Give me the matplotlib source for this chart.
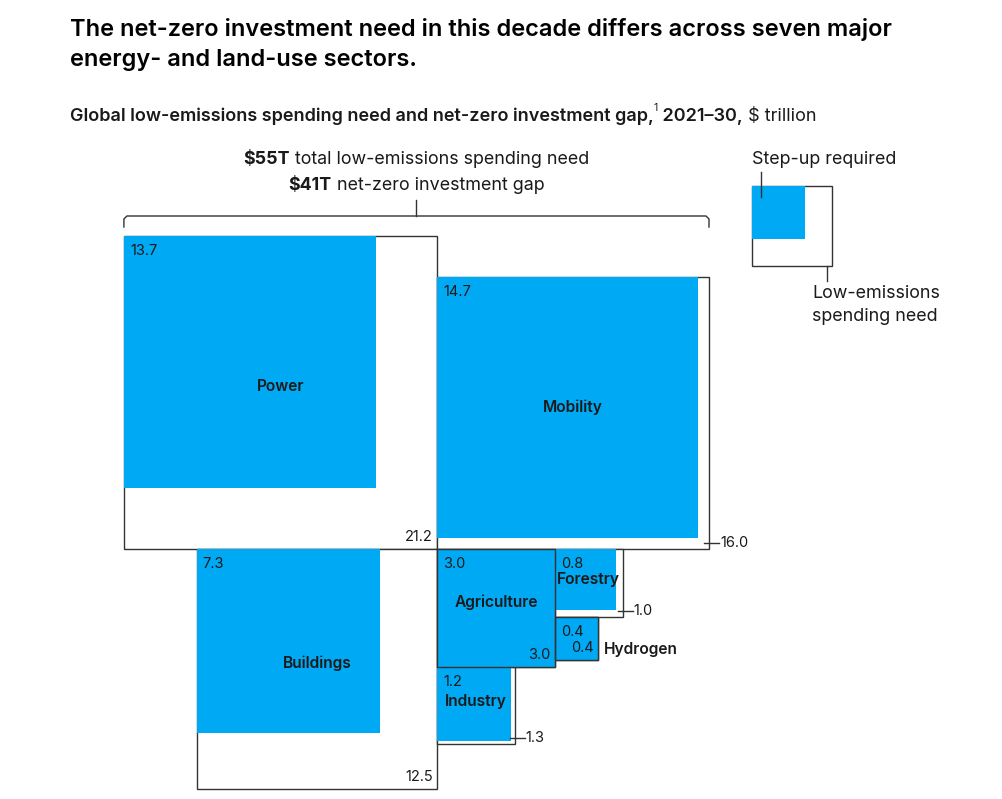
"""
net-zero investment need by sector, nested squares
"""
import numpy as np
import matplotlib
matplotlib.use("Agg")
import matplotlib.pyplot as plt
from matplotlib.patches import Rectangle

# data, $ trillion 2021-30
sectors = ["Power", "Mobility", "Buildings", "Agriculture", "Forestry", "Hydrogen", "Industry"]
spending_need = [21.2, 16.0, 12.5, 3.0, 1.0, 0.4, 1.3]
step_up = [13.7, 14.7, 7.3, 3.0, 0.8, 0.4, 1.2]
total_need = 55
total_gap = 41

# label styles
need_label_outside = [False, True, False, False, True, False, True]
name_outside = [False, False, False, False, False, True, False]

BLUE = "#00A9F4"
EDGE = "#333333"
TXT = "#1a1a1a"
plt.rcParams["font.family"] = ["Inter", "DejaVu Sans"]

fig = plt.figure(figsize=(10.03, 7.99), dpi=100)
ax = fig.add_axes([0, 0, 1, 1])
ax.set_xlim(0, 1003)
ax.set_ylim(799, 0)
ax.axis("off")
renderer = fig.canvas.get_renderer()

scale = 68.0          # px per sqrt($T)
ox, oy = 437, 549     # pivot point of the layout
sides = {s: np.sqrt(v) * scale for s, v in zip(sectors, spending_need)}
inner = {s: np.sqrt(v) * scale for s, v in zip(sectors, step_up)}

# top-left corners, arranged around the pivot
pos = {
    "Power": (ox - sides["Power"], oy - sides["Power"]),
    "Mobility": (ox, oy - sides["Mobility"]),
    "Buildings": (ox - sides["Buildings"], oy),
    "Agriculture": (ox, oy),
    "Forestry": (ox + sides["Agriculture"], oy),
    "Hydrogen": (ox + sides["Agriculture"], oy + sides["Forestry"]),
    "Industry": (ox, oy + sides["Agriculture"]),
}

for i, s in enumerate(sectors):
    x, y = pos[s]
    side = sides[s]
    ax.add_patch(Rectangle((x, y), side, side, facecolor="white",
                           edgecolor=EDGE, lw=1.0, zorder=1))
    ax.add_patch(Rectangle((x, y), inner[s], inner[s], facecolor=BLUE,
                           edgecolor="none", zorder=2))
    if abs(inner[s] - side) < 0.5:
        ax.add_patch(Rectangle((x, y), side, side, facecolor="none",
                               edgecolor=EDGE, lw=1.0, zorder=3))
    ax.text(x + 6, y + 15, f"{step_up[i]:.1f}", fontsize=10.5, color=TXT,
            ha="left", va="center", zorder=4)
    if need_label_outside[i]:
        ly = y + side - 6
        ax.plot([x + side - 5, x + side + 10], [ly, ly], color=EDGE, lw=1.0, zorder=4)
        ax.text(x + side + 11, ly, f"{spending_need[i]:.1f}", fontsize=10.5,
                color=TXT, ha="left", va="center", zorder=4)
    else:
        ax.text(x + side - 4, y + side - 12, f"{spending_need[i]:.1f}", fontsize=10.5,
                color=TXT, ha="right", va="center", zorder=4)
    if name_outside[i]:
        ax.text(x + side + 6, y + side - 11, s, fontsize=11.2, fontweight="semibold",
                color=TXT, ha="left", va="center", zorder=4)
    else:
        lift = min(6, side * 0.05)
        ax.text(x + side / 2, y + side / 2 - lift, s, fontsize=11.2, fontweight="semibold",
                color=TXT, ha="center", va="center", zorder=4)


def rich_line(parts, x, y, ha="left", size=11.5):
    """draw (text, weight) pieces one after another"""
    objs = []
    for txt, weight in parts:
        objs.append(ax.text(0, y, txt, fontsize=size, fontweight=weight,
                            color=TXT, va="baseline"))
    widths = [t.get_window_extent(renderer).width for t in objs]
    total = sum(widths)
    cx = x - total / 2 if ha == "center" else x
    for t, w in zip(objs, widths):
        t.set_x(cx)
        cx += w
    return cx


# bracket over Power + Mobility
bx0 = pos["Power"][0]
bx1 = pos["Mobility"][0] + sides["Mobility"]
bmid = (bx0 + bx1) / 2
ax.plot([bx0, bx0, bx0 + 3, bx1 - 3, bx1, bx1], [227, 219, 216, 216, 219, 227],
        color=EDGE, lw=1.0)
ax.plot([bmid, bmid], [200, 216], color=EDGE, lw=1.0)
rich_line([(f"${total_need}T", "bold"), (" total low-emissions spending need", "normal")],
          bmid, 164, ha="center", size=12.9)
rich_line([(f"${total_gap}T", "bold"), (" net-zero investment gap", "normal")],
          bmid, 190, ha="center", size=12.9)

# legend
lx, ly, lside, lin = 752, 186, 80, 53
ax.add_patch(Rectangle((lx, ly), lside, lside, facecolor="white", edgecolor=EDGE, lw=1.0))
ax.add_patch(Rectangle((lx, ly), lin, lin, facecolor=BLUE, edgecolor="none"))
ax.plot([lx + 9, lx + 9], [172, ly + 11], color=EDGE, lw=1.0)
ax.plot([lx + lside - 5, lx + lside - 5], [ly + lside, ly + lside + 15], color=EDGE, lw=1.0)
ax.text(lx, 164, "Step-up required", fontsize=12.9, color=TXT, va="baseline")
ax.text(lx + 60, 298, "Low-emissions", fontsize=12.9, color=TXT, va="baseline")
ax.text(lx + 60, 321, "spending need", fontsize=12.9, color=TXT, va="baseline")

# titles
ax.text(70, 36, "The net-zero investment need in this decade differs across seven major",
        fontsize=17, fontweight="semibold", color="black", va="baseline")
ax.text(70, 66, "energy- and land-use sectors.",
        fontsize=17, fontweight="semibold", color="black", va="baseline")
end = rich_line([("Global low-emissions spending need and net-zero investment gap,", "semibold")],
                70, 121, size=13)
sup = ax.text(end, 111, "1", fontsize=7.5, color=TXT, va="baseline")
end = sup.get_window_extent(renderer).x1
rich_line([(" 2021–30,", "semibold"), (" $ trillion", "normal")], end, 121, size=13)

fig.savefig("out.png", dpi=100)
